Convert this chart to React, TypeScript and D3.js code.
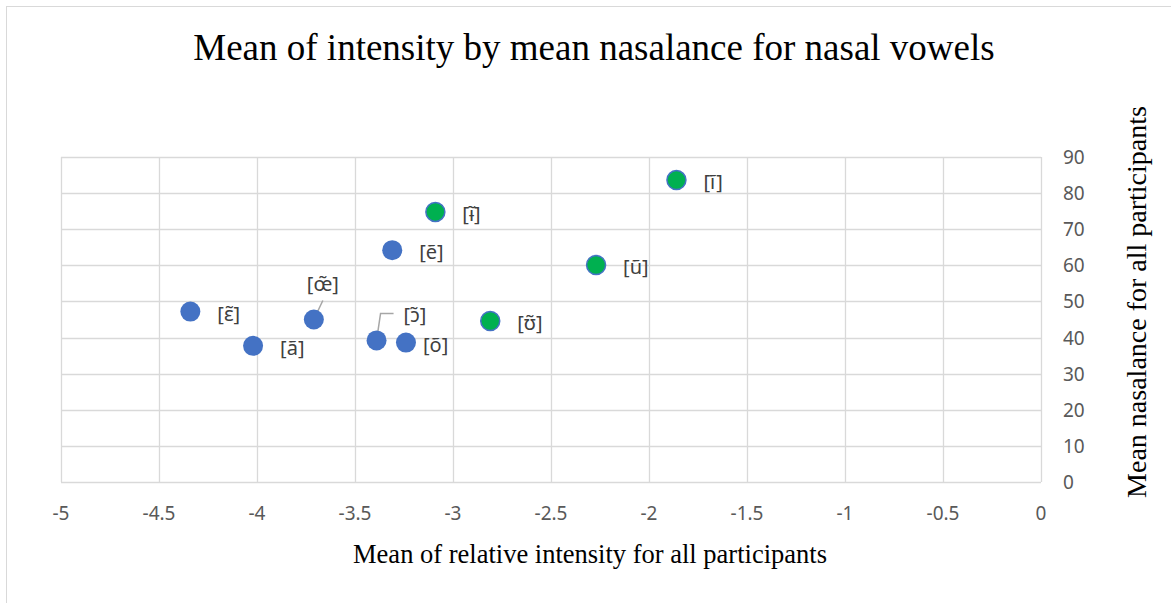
import { useRef, useEffect } from "react";
import * as d3 from "d3";

// vowels, relative intensity (x) and nasalance (y)
const vowels = ["[ĩ]", "[ɨ̃]", "[ẽ]", "[ũ]", "[ɛ̃]", "[œ̃]", "[ʊ̃]", "[ɔ̃]", "[õ]", "[ã]"];
const intensity = [-1.86, -3.09, -3.31, -2.27, -4.34, -3.71, -2.81, -3.39, -3.24, -4.02];
const nasalance = [83.6, 74.8, 64.2, 60.1, 47.2, 45.0, 44.6, 39.2, 38.6, 37.7];
const group = ["high", "high", "mid", "high", "mid", "mid", "high", "mid", "mid", "mid"];

const xTicks = [-5, -4.5, -4, -3.5, -3, -2.5, -2, -1.5, -1, -0.5, 0];
const yTicks = [0, 10, 20, 30, 40, 50, 60, 70, 80, 90];

const W = 1171;
const H = 603;

const ScatterChart = () => {
  const ref = useRef<SVGSVGElement>(null);

  useEffect(() => {
    if (!ref.current) return;
    const svg = d3.select(ref.current);
    svg.selectAll("*").remove();

    const x = d3.scaleLinear().domain([-5, 0]).range([61, 1041]);
    const y = d3.scaleLinear().domain([0, 90]).range([482, 157]);
    const serif = "'Liberation Serif', 'Times New Roman', serif";
    const sans = "'Noto Sans', 'Open Sans', sans-serif";

    svg.append("rect")
      .attr("x", 6.5).attr("y", 6.5)
      .attr("width", W + 10).attr("height", H + 10)
      .attr("fill", "white").attr("stroke", "#d9d9d9");

    // title
    svg.append("text")
      .attr("x", 594).attr("y", 60)
      .attr("text-anchor", "middle")
      .style("font-family", serif)
      .style("font-size", "37px")
      .style("fill", "#000")
      .text("Mean of intensity by mean nasalance for nasal vowels");

    const grid = svg.append("g").attr("stroke", "#d9d9d9").attr("stroke-width", 1.3);
    grid.selectAll("line.v").data(xTicks).enter().append("line")
      .attr("x1", (d) => Math.round(x(d)) + 0.5).attr("x2", (d) => Math.round(x(d)) + 0.5)
      .attr("y1", y(90)).attr("y2", y(0));
    grid.selectAll("line.h").data(yTicks).enter().append("line")
      .attr("y1", (d) => Math.round(y(d)) + 0.5).attr("y2", (d) => Math.round(y(d)) + 0.5)
      .attr("x1", x(-5)).attr("x2", x(0));

    svg.append("g").selectAll("text").data(xTicks).enter().append("text")
      .attr("x", (d) => x(d)).attr("y", 520)
      .attr("text-anchor", "middle")
      .style("font-family", sans).style("font-size", "19px").style("fill", "#595959")
      .text((d) => String(d));
    svg.append("g").selectAll("text").data(yTicks).enter().append("text")
      .attr("x", 1063).attr("y", (d) => y(d) + 7)
      .style("font-family", sans).style("font-size", "19px").style("fill", "#595959")
      .text((d) => String(d));

    // axis titles
    svg.append("text")
      .attr("x", 590).attr("y", 563)
      .attr("text-anchor", "middle")
      .style("font-family", serif)
      .style("font-size", "26.5px")
      .text("Mean of relative intensity for all participants");
    svg.append("text")
      .attr("transform", "translate(1146,302) rotate(-90)")
      .attr("text-anchor", "middle")
      .style("font-family", serif)
      .style("font-size", "28px")
      .text("Mean nasalance for all participants");

    const pts = vowels.map((v, i) => ({ v, x: intensity[i], y: nasalance[i], g: group[i] }));

    // leader lines for the two moved labels
    const leaders = svg.append("g").attr("stroke", "#a6a6a6").attr("stroke-width", 1.5).attr("fill", "none");
    const oe = pts[5];
    leaders.append("path").attr("d", `M${x(oe.x)},${y(oe.y)} L${x(oe.x) + 9},${y(oe.y) - 19}`);
    const oo = pts[7];
    leaders.append("path").attr("d", `M${x(oo.x)},${y(oo.y)} L${x(oo.x) + 4},${y(oo.y) - 27} L${x(oo.x) + 17},${y(oo.y) - 27}`);

    svg.append("g").selectAll("circle").data(pts).enter().append("circle")
      .attr("cx", (d) => x(d.x)).attr("cy", (d) => y(d.y))
      .attr("r", (d) => (d.g === "high" ? 9.5 : 10))
      .attr("fill", (d) => (d.g === "high" ? "#00b050" : "#4472c4"))
      .attr("stroke", "#4472c4").attr("stroke-width", (d) => (d.g === "high" ? 1.5 : 0));

    // label offsets (dx, dy) where Excel moved them
    const offsets: Record<string, [number, number]> = {
      "[œ̃]": [-7, -36],
      "[ɔ̃]": [27, -25],
      "[õ]": [17, 2],
    };
    svg.append("g").selectAll("text").data(pts).enter().append("text")
      .attr("x", (d) => x(d.x) + (offsets[d.v] ? offsets[d.v][0] : 27))
      .attr("y", (d) => y(d.y) + (offsets[d.v] ? offsets[d.v][1] : 2))
      .attr("dy", "0.35em")
      .style("font-family", sans).style("font-size", "20px").style("fill", "#404040")
      .text((d) => d.v);
  }, []);

  return <svg ref={ref} width={W} height={H} style={{ position: "absolute", left: 0, top: 0 }} />;
};

export default function App() {
  return <ScatterChart />;
}
